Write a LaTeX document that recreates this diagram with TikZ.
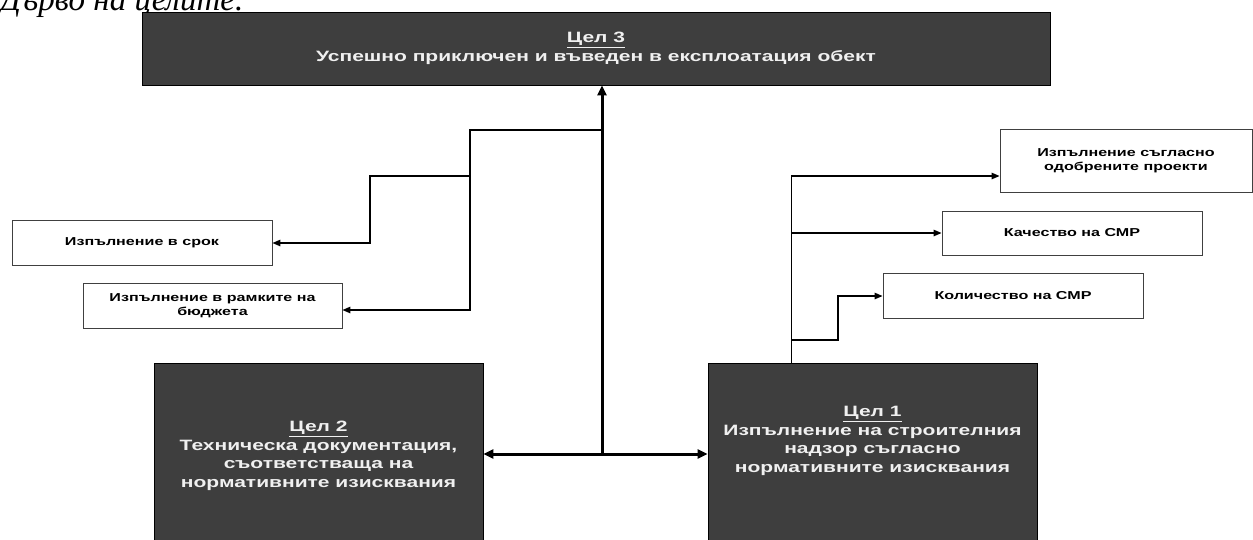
\documentclass[tikz,border=0pt]{standalone}
\usepackage{fontspec}
\setmainfont{Liberation Sans}
\newfontfamily\widefont[FakeStretch=1.4]{Liberation Sans}
\newfontfamily\capfont{Liberation Serif}
\usetikzlibrary{arrows.meta}
\definecolor{goalgray}{RGB}{62,62,62}
\definecolor{goaltxt}{RGB}{240,240,240}
\begin{document}
\begin{tikzpicture}[x=1pt,y=-1pt,
  goalbox/.style={draw=black, fill=goalgray, line width=0.8pt, inner sep=0pt},
  goaltext/.style={text=goaltxt, font=\widefont\bfseries\fontsize{15}{18.5}\selectfont, align=center, inner sep=0pt},
  subbox/.style={draw=black!75, line width=0.9pt, fill=white, inner sep=0pt,
    font=\widefont\bfseries\fontsize{11.5}{14}\selectfont, align=center},
  thinarrow/.style={line width=1.3pt, -{Triangle[length=8pt,width=6.5pt]}},
  thinline/.style={line width=1pt},
  thickarrow/.style={line width=3pt, -{Triangle[length=10pt,width=9pt]}},
  thickboth/.style={line width=3pt, {Triangle[length=10pt,width=9pt]}-{Triangle[length=10pt,width=9pt]}}
]
\useasboundingbox (0,0) rectangle (1253,539);
\fill[white] (0,0) rectangle (1253,539);

% caption (cut at the top, as in the reference)
\begin{scope}
\clip (0,0) rectangle (1253,539);
\node[anchor=base west, inner sep=0pt, font=\capfont\itshape\fontsize{33}{33}\selectfont] (cap) at (0,10) {Дърво на целите.};
\end{scope}

% goal boxes
\node[goalbox, goaltext, minimum width=908pt, minimum height=73pt] (c3) at (596,48.5)
  {\underline{Цел 3}\\Успешно приключен и въведен в експлоатация обект};
\node[goalbox, goaltext, minimum width=329pt, minimum height=186pt] (c2) at (318.5,456)
  {\underline{Цел 2}\\Техническа документация,\\съответстваща на\\нормативните изисквания};
\node[goalbox, minimum width=329pt, minimum height=186pt] (c1) at (872.5,456) {};
\node[goaltext] (c1t) at (872.5,441)
  {\underline{Цел 1}\\Изпълнение на строителния\\надзор съгласно\\нормативните изисквания};

% sub boxes
\node[subbox, minimum width=260pt, minimum height=45pt] (srok) at (142,242.5) {Изпълнение в срок};
\node[subbox, minimum width=259pt, minimum height=45pt] (bud) at (212.5,305.5) {Изпълнение в рамките на\\бюджета};
\node[subbox, minimum width=252pt, minimum height=63pt] (odo) at (1126,160.5) {Изпълнение съгласно\\одобрените проекти};
\node[subbox, minimum width=260pt, minimum height=44pt] (kach) at (1072,233) {Качество на СМР};
\node[subbox, minimum width=260pt, minimum height=45pt] (kol) at (1013,295.5) {Количество на СМР};

% main connectors
\coordinate (j0) at (602,454);
\draw[thickboth] (c2.east |- j0) -- (c1.west |- j0);
\draw[thickarrow] (j0) -- (j0 |- c3.south);

% left branches
\coordinate (t1) at (602,130);
\coordinate (t2) at (470,176);
\draw[thinarrow] (t1) -- (470,130) -- (470,310) -- (bud.east |- 0,310);
\draw[thinarrow] (t2) -- (370,176) -- (370,243) -- (srok.east |- 0,243);

% right branches
\draw[thinline] (791,0 |- c1.north) -- (791,176);
\draw[thinarrow] (791,176) -- (odo.west |- 0,176);
\draw[thinarrow] (791,233) -- (kach.west |- 0,233);
\draw[thinarrow] (791,340) -- (838,340) -- (838,296) -- (kol.west |- 0,296);
\end{tikzpicture}
\end{document}
